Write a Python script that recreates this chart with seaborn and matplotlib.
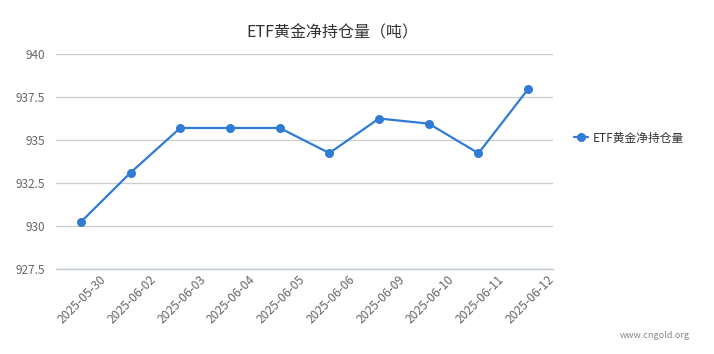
import matplotlib
matplotlib.use('Agg')
import matplotlib.pyplot as plt
import seaborn as sns
import pandas as pd
import numpy as np

# data
dates = ['2025-05-30', '2025-06-02', '2025-06-03', '2025-06-04', '2025-06-05',
         '2025-06-06', '2025-06-09', '2025-06-10', '2025-06-11', '2025-06-12']
holdings = [930.23, 933.10, 935.70, 935.70, 935.70, 934.24, 936.25, 935.95, 934.23, 937.96]
y_ticks = [927.5, 930, 932.5, 935, 937.5, 940]
series_name = 'ETF黄金净持仓量'
title = 'ETF黄金净持仓量（吨）'

sns.set_style('white')
plt.rcParams['font.family'] = ['Noto Sans CJK SC', 'DejaVu Sans']

df = pd.DataFrame({'idx': range(len(dates)), 'date': dates, 'value': holdings})

line_color = '#2f7bd5'
axis_color = '#c0cadb'
grid_color = '#cccccc'
text_color = '#666666'

fig = plt.figure(figsize=(7.14, 3.54), dpi=100)
ax = fig.add_axes([56/714, 1-269/354, 497/714, 215/354])

sns.lineplot(data=df, x='idx', y='value', ax=ax, color=line_color, linewidth=1.6,
             marker='o', markersize=6.5, markeredgewidth=0, label=series_name, legend=False)

ax.set_xlim(-0.5, len(dates)-0.5)
ax.set_ylim(y_ticks[0], y_ticks[-1])
ax.set_yticks(y_ticks)
ax.set_yticklabels([f'{v:g}' for v in y_ticks], color=text_color, fontsize=8.5)

# tick marks at category boundaries, labels slightly left of each boundary
ax.set_xticks(np.arange(-0.5, len(dates), 1.0))
ax.set_xticklabels([])
ax.set_xticks(np.arange(len(dates)) + 0.5 - 0.12, minor=True)
ax.set_xticklabels(dates, minor=True, rotation=45, ha='right', rotation_mode='anchor',
                   color=text_color, fontsize=8.7)

ax.grid(axis='y', color=grid_color, linewidth=0.9)
ax.grid(axis='x', visible=False)
for s in ['top', 'right', 'left']:
    ax.spines[s].set_visible(False)
ax.spines['bottom'].set_color(axis_color)
ax.spines['bottom'].set_linewidth(1)
ax.tick_params(axis='x', which='major', length=5, width=1, color=axis_color, direction='out')
ax.tick_params(axis='x', which='minor', length=0, pad=3)
ax.tick_params(axis='y', length=0, pad=8)
ax.set_xlabel('')
ax.set_ylabel('')

fig.text(332/714, 1-33/354, title, ha='center', va='center', fontsize=11.5, color='#333333')

handles, labels = ax.get_legend_handles_labels()
ax.legend(handles, labels, loc='center left', bbox_to_anchor=(563/714, 1-138/354),
          bbox_transform=fig.transFigure, frameon=False, fontsize=8.5,
          handlelength=1.2, handletextpad=0.4, labelcolor='#333333')

fig.text(655/714, 1-336/354, 'www.cngold.org', ha='center', va='center', fontsize=6.5,
         color='#888888')

fig.savefig('out.png', dpi=100)
